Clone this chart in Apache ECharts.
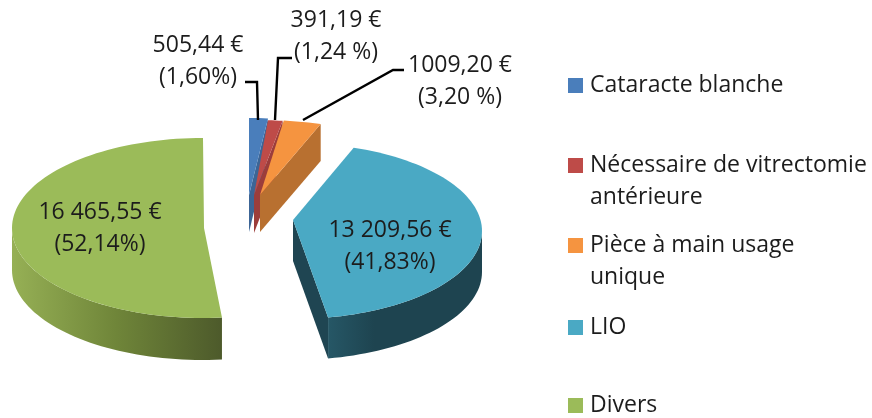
<!DOCTYPE html>
<html>
<head>
<meta charset="utf-8">
<style>
  html, body { margin: 0; padding: 0; background: #fff; }
  #chart { width: 872px; height: 418px; }
</style>
<script src="https://cdn.jsdelivr.net/npm/echarts@6/dist/echarts.min.js"></script>
</head>
<body>
<div id="chart"></div>
<script>
// 데이터
const categories = ['Cataracte blanche', 'Nécessaire de vitrectomie\nantérieure', 'Pièce à main usage\nunique', 'LIO', 'Divers'];
const amounts = [505.44, 391.19, 1009.20, 13209.56, 16465.55];
const amountLabels = ['505,44 €', '391,19 €', '1009,20 €', '13 209,56 €', '16 465,55 €'];
const percentLabels = ['(1,60%)', '(1,24 %)', '(3,20 %)', '(41,83%)', '(52,14%)'];
const topColors = ['#4a7ebb', '#be4b48', '#f59440', '#4aa9c4', '#9bbb59'];
const sideColors = ['#3c6596', '#9c3d3b', '#b87030', '#1f4552', '#1f4552'];

// 배치 (슬라이스별 꼭짓점/타원)
const sliceLayout = [
  { ax: 249, ay: 195, ex: 249, ey: 195, rx: 189, ry: 77, shift: 0, depth: 37 },
  { ax: 254, ay: 195, ex: 254, ey: 195, rx: 189, ry: 75, shift: -1.5, depth: 38 },
  { ax: 260, ay: 195, ex: 260, ey: 195, rx: 189, ry: 75, shift: -3, depth: 37 },
  { ax: 293, ay: 220, ex: 293, ey: 231, rx: 189, ry: 88, shift: -3, depth: 41 },
  { ax: 204, ay: 228, ex: 203, ey: 228, rx: 191, ry: 90, shift: 2, depth: 42 }
];
const labelLayout = [
  { x: 198, y: 45 }, { x: 336, y: 20 }, { x: 460, y: 65 }, { x: 390, y: 230 }, { x: 100, y: 212 }
];
const leaderLines = [
  [[245, 82], [257, 82], [258, 120]],
  [[292, 58], [278, 58], [275, 120]],
  [[404, 70], [393, 70], [303, 120]]
];
const legendRows = [85, 165, 245, 327, 405];

const total = amounts.reduce((a, b) => a + b, 0);
const TEXT_COLOR = '#1c1c1c';
const FONT = '"Open Sans", "Noto Sans", sans-serif';

const ellipsePoint = (l, deg) => {
  const r = deg * Math.PI / 180;
  return [l.ex + l.rx * Math.sin(r), l.ey - l.ry * Math.cos(r)];
};

const arcPoints = (l, from, to) => {
  const pts = [];
  const steps = Math.max(4, Math.ceil(Math.abs(to - from) / 2));
  for (let i = 0; i <= steps; i++) pts.push(ellipsePoint(l, from + (to - from) * i / steps));
  return pts;
};

const down = (pts, d) => pts.map(p => [p[0], p[1] + d]);

const polygon = (points, fill) => ({
  type: 'polygon',
  shape: { points },
  style: { fill, stroke: null }
});

const renderSlice = (params, api) => {
  const i = params.dataIndex;
  const l = sliceLayout[i];
  const before = amounts.slice(0, i).reduce((a, b) => a + b, 0);
  const start = before / total * 360 + l.shift;
  const end = (before + api.value(0)) / total * 360 + (i === 4 ? 0 : l.shift);
  const apex = [l.ax, l.ay];
  const children = [];

  // 측면
  if (i < 4) {
    const endPt = ellipsePoint(l, end);
    children.push(polygon([apex, endPt, [endPt[0], endPt[1] + l.depth], [apex[0], apex[1] + l.depth]], sideColors[i]));
  }
  if (i === 3) {
    const arc = arcPoints(l, 90, end);
    children.push(polygon(arc.concat(down(arc, l.depth).reverse()), new echarts.graphic.LinearGradient(0, 0, 1, 0, [
      { offset: 0, color: '#265766' },
      { offset: 0.3, color: '#1e4450' },
      { offset: 1, color: '#1e4450' }
    ])));
  }
  if (i === 4) {
    const arc = arcPoints(l, start, 270);
    children.push(polygon(arc.concat(down(arc, l.depth).reverse()), new echarts.graphic.LinearGradient(1, 0, 0, 0, [
      { offset: 0, color: '#4d5a2b' },
      { offset: 0.5, color: '#6f8539' },
      { offset: 1, color: '#96b055' }
    ])));
  }

  // 윗면
  children.push(polygon([apex].concat(arcPoints(l, start, end)), topColors[i]));
  return { type: 'group', children };
};

const textStyle = (text, x, y, align) => ({
  type: 'text',
  x,
  y,
  silent: true,
  style: { text, fill: TEXT_COLOR, font: `23px ${FONT}`, align, verticalAlign: 'middle', lineHeight: 32 }
});

const graphics = [];
amounts.forEach((_, i) => {
  const pos = labelLayout[i];
  graphics.push(textStyle(amountLabels[i], pos.x, pos.y, 'center'));
  graphics.push(textStyle(percentLabels[i], pos.x, pos.y + 32, 'center'));
});
leaderLines.forEach(points => {
  graphics.push({
    type: 'polyline',
    shape: { points },
    style: { stroke: '#000', lineWidth: 2.4, fill: null }
  });
});
categories.forEach((name, i) => {
  const y = legendRows[i];
  graphics.push({ type: 'rect', shape: { x: 568, y: y - 7, width: 15, height: 15 }, style: { fill: topColors[i] } });
  name.split('\n').forEach((line, k) => {
    graphics.push(textStyle(line, 590, y + k * 32, 'left'));
  });
});

const chart = echarts.init(document.getElementById('chart'), null, { renderer: 'canvas' });
chart.setOption({
  animation: false,
  backgroundColor: '#fff',
  series: [{
    type: 'custom',
    coordinateSystem: 'none',
    silent: true,
    data: amounts.map((value, i) => ({ name: categories[i], value: [value] })),
    renderItem: renderSlice,
    z: 1
  }],
  graphic: { elements: graphics.map(g => ({ ...g, z: 10 })) }
});
</script>
</body>
</html>
